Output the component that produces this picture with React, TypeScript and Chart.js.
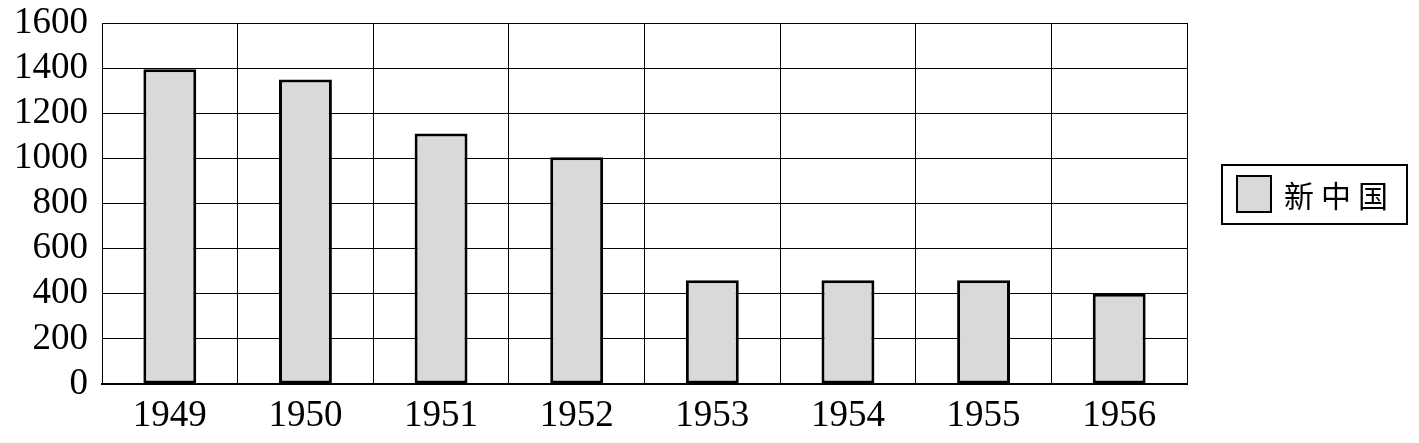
import React, { useEffect, useRef } from "react";
import { Chart, registerables } from "chart.js";

Chart.register(...registerables);

const categories = ["1949", "1950", "1951", "1952", "1953", "1954", "1955", "1956"];
const seriesLabel = "新中国";
const seriesValues = [1395, 1350, 1110, 1005, 460, 460, 460, 400];
const yTicks = [0, 200, 400, 600, 800, 1000, 1200, 1400, 1600];

const SERIF = "'Liberation Serif', 'Times New Roman', serif";
const CJK = "'Noto Sans CJK SC', sans-serif";
const BAR_FILL = "#d9d9d9";

const legendPlugin = {
  id: "boxLegend",
  afterDraw(chart: any) {
    const ctx = chart.ctx as CanvasRenderingContext2D;
    const area = chart.chartArea;
    const x = area.right + 35;
    const y = 165;
    const w = 185;
    const h = 59;
    ctx.save();
    ctx.strokeStyle = "#000";
    ctx.lineWidth = 2;
    ctx.strokeRect(x, y, w, h);
    ctx.fillStyle = BAR_FILL;
    ctx.fillRect(x + 15, y + 11, 34, 36);
    ctx.strokeRect(x + 15, y + 11, 34, 36);
    ctx.fillStyle = "#000";
    ctx.font = `30px ${CJK}`;
    ctx.textBaseline = "middle";
    ctx.textAlign = "center";
    const label = chart.data.datasets[0].label as string;
    Array.from(label).forEach((c, i) => {
      ctx.fillText(c, x + 77 + i * 37, y + h / 2 + 1);
    });
    ctx.restore();
  },
};

export default function App() {
  const ref = useRef<HTMLCanvasElement | null>(null);

  useEffect(() => {
    if (!ref.current) return;
    const chart = new Chart(ref.current, {
      type: "bar",
      data: {
        labels: categories,
        datasets: [
          {
            label: seriesLabel,
            data: seriesValues,
            backgroundColor: BAR_FILL,
            borderColor: "#000",
            borderWidth: 3,
            borderSkipped: false,
            categoryPercentage: 1,
            barPercentage: 0.39,
          },
        ],
      },
      options: {
        responsive: false,
        animation: false,
        devicePixelRatio: 1,
        layout: { padding: { top: 23, right: 232, left: 0, bottom: -6 } },
        plugins: {
          legend: { display: false },
          tooltip: { enabled: false },
        },
        scales: {
          x: {
            grid: { color: "#000", lineWidth: 1, drawTicks: false, offset: true },
            border: { color: "#000", width: 2 },
            ticks: {
              color: "#000",
              font: { family: SERIF, size: 37, lineHeight: 1 },
              padding: 14,
              maxRotation: 0,
              autoSkip: false,
            },
          },
          y: {
            min: 0,
            max: 1600,
            afterBuildTicks(scale: any) {
              scale.ticks = yTicks.map((v) => ({ value: v }));
            },
            afterFit(scale: any) {
              scale.paddingTop = 0;
            },
            grid: { color: "#000", lineWidth: 1, drawTicks: false },
            border: { color: "#000", width: 1 },
            ticks: {
              color: "#000",
              font: { family: SERIF, size: 37, lineHeight: 1 },
              padding: 14,
              autoSkip: false,
              callback: (v: any) => String(v),
            },
          },
        },
      },
      plugins: [legendPlugin],
    });
    return () => chart.destroy();
  }, []);

  return (
    <div style={{ position: "fixed", left: 0, top: 0, width: 1419, height: 443, background: "#fff" }}>
      <canvas ref={ref} width={1419} height={443} style={{ width: 1419, height: 443 }} />
    </div>
  );
}
